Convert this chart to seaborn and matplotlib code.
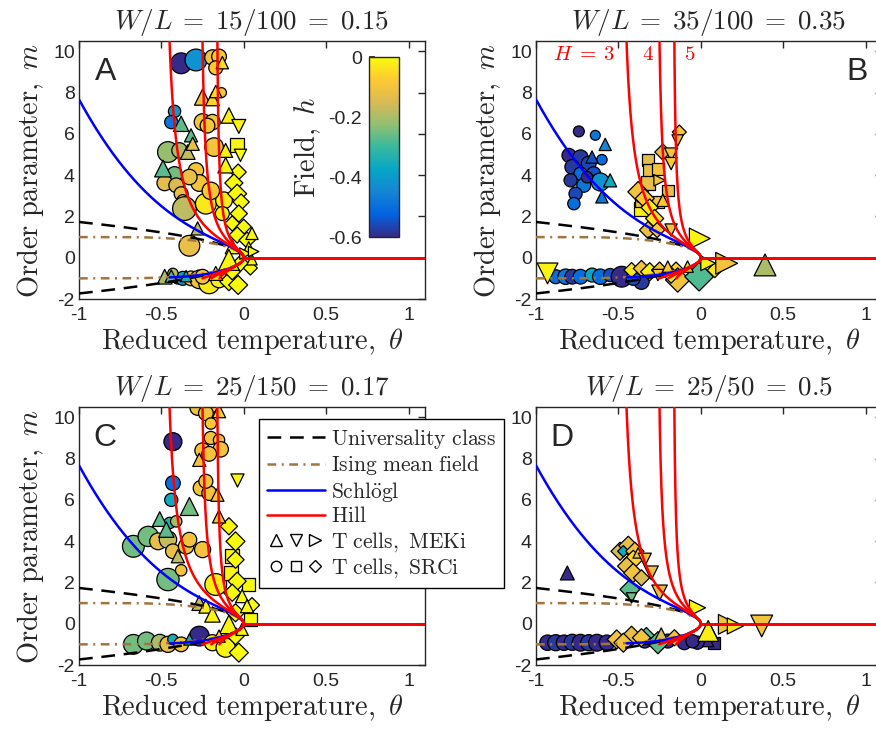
import numpy as np
import pandas as pd
import matplotlib
matplotlib.use("Agg")
import matplotlib.pyplot as plt
import seaborn as sns
from matplotlib.colors import LinearSegmentedColormap, Normalize
from matplotlib.cm import ScalarMappable
from matplotlib.lines import Line2D
from matplotlib.legend_handler import HandlerTuple

# ---------------------------------------------------------------- data
titles = [r"$W/L\;=\;15/100\;=\;0.15$", r"$W/L\;=\;35/100\;=\;0.35$",
          r"$W/L\;=\;25/150\;=\;0.17$", r"$W/L\;=\;25/50\;=\;0.5$"]
letters = ["A", "B", "C", "D"]

# Panel A: reduced temperature, order parameter, field, marker, size
A_theta = [-0.38, -0.29, -0.19, -0.15, -0.17, -0.13, -0.25, -0.19, -0.135, -0.17,
           -0.42, -0.44, -0.38, -0.32, -0.25, -0.19, -0.22, -0.09, -0.03, -0.04,
           -0.02, -0.46, -0.39, -0.34, -0.31, -0.18, -0.11, -0.11, -0.49, -0.42,
           -0.48, -0.41, -0.38, -0.37, -0.29, -0.27, -0.33, -0.36, -0.23, -0.12,
           -0.20, -0.13, -0.034, -0.06, -0.04, -0.016, -0.03, -0.07, 0.00, -0.04,
           0.02, 0.05, -0.07, 0.01, -0.02, -0.09, 0.05, -0.33, -0.28, -0.48,
           -0.44, -0.40, -0.37, -0.32, -0.27, -0.21, -0.15, -0.09, -0.034, -0.07,
           -0.43, -0.35, -0.17, -0.25, 0.03, 0.04, 0.06]
A_m = [9.42, 9.58, 9.70, 9.75, 9.20, 9.45, 7.78, 7.70, 8.00, 8.05,
       7.09, 6.57, 6.49, 5.93, 6.57, 6.57, 6.40, 6.89, 6.36, 5.44,
       4.96, 5.12, 5.20, 5.12, 5.52, 5.36, 5.20, 4.48, 4.32, 4.04,
       3.62, 3.51, 3.10, 2.78, 4.23, 3.62, 3.91, 2.38, 2.62, 2.78,
       3.24, 2.14, 4.15, 3.62, 3.10, 2.70, 2.14, 1.66, 1.50, 1.10,
       0.85, 1.18, 0.53, 0.20, -0.27, -0.11, -0.10, 0.58, 1.42, -0.92,
       -0.89, -1.00, -1.00, -1.00, -1.05, -1.24, -1.05, -1.16, -1.32, -0.68,
       -0.76, -0.89, -0.76, -0.92, 0.50, -0.50, 0.30]
A_h = [-0.60, -0.42, -0.10, -0.09, -0.08, -0.05, -0.10, -0.06, -0.10, -0.05,
       -0.40, -0.48, -0.27, -0.27, -0.10, -0.10, -0.09, -0.02, -0.01, -0.01,
       0.00, -0.22, -0.20, -0.17, -0.12, -0.10, -0.02, -0.01, -0.27, -0.25,
       -0.13, -0.15, -0.12, -0.10, -0.10, -0.10, -0.12, -0.18, -0.03, -0.02,
       -0.08, -0.01, 0.00, 0.00, 0.00, 0.00, 0.00, 0.00, 0.00, 0.00,
       0.00, -0.01, -0.01, -0.01, 0.00, -0.01, -0.01, -0.12, -0.18, -0.20,
       -0.27, -0.50, -0.38, -0.12, -0.10, -0.03, -0.02, 0.00, 0.00, 0.00,
       -0.20, -0.35, -0.02, -0.10, 0.00, 0.00, 0.00]
A_mark = "ooooo^^^o^" "oo^^ooo^vs" "voo^^o^^^o" "oooooooooo" "ooDDDDDDDD" \
         "D^^>D^^o^^" "^ooooooDDD" "o^^o^D>"
A_size = [200, 220, 110, 100, 90, 70, 120, 90, 45, 70,
          70, 80, 110, 80, 130, 110, 100, 110, 90, 90,
          70, 200, 110, 100, 80, 160, 90, 110, 130, 110,
          110, 100, 90, 60, 110, 130, 110, 260, 200, 130,
          140, 90, 80, 100, 110, 80, 90, 70, 70, 80,
          80, 70, 90, 60, 80, 200, 50, 200, 80, 100,
          70, 60, 90, 100, 160, 200, 130, 100, 110, 80,
          50, 60, 90, 100, 60, 60, 50]

# Panel B
B_theta = [-0.74, -0.64, -0.58, -0.80, -0.73, -0.68, -0.66, -0.60, -0.78, -0.73,
           -0.65, -0.79, -0.71, -0.61, -0.55, -0.76, -0.77, -0.60, -0.69, -0.13,
           -0.14, -0.18, -0.18, -0.23, -0.32, -0.31, -0.26, -0.32, -0.25, -0.38,
           -0.34, -0.36, -0.31, -0.26, -0.23, -0.28, -0.32, -0.265, -0.18, -0.006,
           -0.20, -0.36, -0.93, -0.88, -0.82, -0.78, -0.73, -0.66, -0.61, -0.55,
           -0.48, -0.36, -0.41, -0.42, -0.36, -0.31, -0.25, -0.20, -0.15, -0.14,
           -0.01, -0.08, 0.045, 0.085, 0.157, 0.39, -0.26, -0.18]
B_m = [6.12, 5.93, 5.49, 4.96, 4.85, 4.56, 4.88, 4.75, 4.40, 4.07,
       4.07, 3.75, 3.51, 3.67, 3.75, 3.10, 2.62, 2.95, 3.90, 6.09,
       5.68, 5.00, 4.56, 5.12, 4.75, 4.23, 4.31, 3.62, 3.75, 3.19,
       2.87, 2.38, 2.43, 2.70, 2.78, 1.90, 1.34, 1.34, 1.34, 0.93,
       3.27, 2.78, -0.76, -0.92, -0.92, -0.92, -0.92, -0.84, -0.92, -0.84,
       -0.92, -1.16, -1.00, -0.60, -0.52, -0.68, -0.60, -0.43, -0.60, -1.08,
       -0.92, -0.43, -0.27, -0.60, -0.27, -0.35, -0.84, -0.84]
B_h = [-0.60, -0.48, -0.45, -0.60, -0.58, -0.56, -0.55, -0.50, -0.58, -0.50,
       -0.55, -0.58, -0.48, -0.42, -0.36, -0.56, -0.50, -0.48, -0.60, -0.08,
       -0.10, -0.10, -0.08, -0.13, -0.13, -0.12, -0.10, -0.12, -0.10, -0.10,
       -0.08, -0.02, -0.02, -0.10, -0.08, -0.03, -0.12, -0.08, -0.10, -0.01,
       -0.12, -0.12, -0.01, -0.50, -0.48, -0.58, -0.50, -0.38, -0.50, -0.55,
       -0.60, -0.58, -0.55, -0.03, -0.10, -0.02, -0.10, -0.08, -0.05, -0.10,
       -0.28, -0.05, -0.02, -0.03, -0.10, -0.20, -0.10, -0.02]
B_mark = "oo^ooo^ooo" "oooo^oo^oD" "vvvDssss>D" "DsDs^DDDv>" "ssvooooooo" \
         "oooDDDD^DD" "D^>D>^vD"
B_size = [55, 45, 70, 90, 110, 100, 70, 50, 100, 80,
          90, 80, 90, 150, 80, 80, 70, 70, 60, 60,
          60, 80, 70, 80, 70, 80, 70, 80, 60, 130,
          110, 90, 90, 70, 70, 100, 90, 70, 70, 200,
          60, 80, 200, 90, 110, 100, 100, 90, 110, 80,
          200, 110, 90, 70, 80, 100, 80, 60, 80, 180,
          250, 60, 100, 70, 220, 220, 60, 80]

# Panel C
C_theta = [-0.28, -0.21, -0.23, -0.15, -0.20, -0.20, -0.15, -0.14, -0.25, -0.21,
           -0.27, -0.43, -0.43, -0.44, -0.26, -0.21, -0.23, -0.16, -0.04, -0.33,
           -0.15, -0.51, -0.47, -0.45, -0.41, -0.09, -0.05, -0.07, -0.05, -0.67,
           -0.58, -0.52, -0.46, -0.43, -0.35, -0.33, -0.25, -0.40, -0.46, -0.38,
           -0.17, -0.27, -0.23, -0.19, -0.08, -0.04, -0.07, -0.01, 0.02, -0.05,
           -0.09, -0.67, -0.59, -0.51, -0.46, -0.43, -0.38, -0.27, -0.33, -0.19,
           -0.11, -0.03, -0.05, -0.01, -0.15, 0.03, 0.05, 0.04]
C_m = [10.47, 10.55, 10.20, 10.30, 9.70, 9.00, 8.90, 8.45, 8.39, 8.23,
       7.94, 8.82, 6.81, 6.00, 6.57, 6.33, 6.90, 6.25, 6.94, 5.68,
       5.20, 5.07, 4.56, 4.88, 4.96, 4.72, 3.99, 3.27, 3.10, 3.75,
       4.23, 3.99, 4.07, 3.51, 3.75, 4.07, 3.59, 3.27, 2.14, 2.59,
       1.90, 1.00, 0.85, 0.45, 2.46, 2.06, 1.50, 1.34, 0.85, 0.53,
       -0.03, -1.00, -0.84, -0.92, -1.00, -0.76, -1.00, -0.60, -0.76, -0.92,
       -1.16, -1.40, -0.60, -0.27, -0.60, 1.90, 0.90, 0.20]
C_h = [-0.10, -0.10, -0.10, -0.06, -0.08, -0.10, -0.10, -0.10, -0.10, -0.10,
       -0.10, -0.60, -0.50, -0.36, -0.10, -0.10, -0.10, -0.08, -0.01, -0.25,
       -0.10, -0.27, -0.27, -0.33, -0.20, -0.01, 0.00, -0.01, 0.00, -0.25,
       -0.25, -0.12, -0.17, -0.12, -0.10, -0.10, -0.10, -0.18, -0.25, -0.10,
       -0.02, -0.17, -0.02, -0.01, -0.01, 0.00, 0.00, 0.00, 0.00, 0.00,
       -0.01, -0.25, -0.25, -0.20, -0.12, -0.35, -0.10, -0.60, -0.35, -0.02,
       -0.01, 0.00, 0.00, 0.00, -0.08, 0.00, 0.00, 0.00]
C_mark = "ooo^oooooo" "^oooooo^v^" "^^^ooDDsDo" "ooooooo^oo" "o^^^sDD^^D" \
         "^ooooooo^o" "oDD^^sDs"
C_size = [110, 120, 100, 80, 60, 80, 60, 110, 110, 100,
          80, 150, 100, 80, 110, 100, 90, 80, 80, 150,
          80, 100, 110, 60, 60, 90, 110, 90, 90, 220,
          190, 130, 140, 100, 110, 100, 120, 80, 230, 60,
          220, 100, 90, 110, 90, 100, 90, 80, 80, 100,
          160, 180, 150, 130, 120, 50, 100, 180, 60, 120,
          170, 110, 90, 70, 70, 80, 70, 70]

# Panel D
D_theta = [-0.81, -0.49, -0.44, -0.47, -0.40, -0.41, -0.45, -0.41, -0.36, -0.34,
           -0.30, -0.43, -0.42, -0.25, -0.02, -0.38, -0.93, -0.88, -0.83, -0.78,
           -0.73, -0.68, -0.63, -0.57, -0.51, -0.42, -0.33, -0.26, -0.24, -0.16,
           -0.10, -0.02, 0.045, 0.065, 0.045, 0.167, 0.21, 0.37, -0.34, -0.20,
           -0.47, -0.36, 0.08, -0.05]
D_m = [2.46, 3.51, 3.78, 3.51, 3.51, 3.10, 2.79, 2.46, 2.22, 3.10,
       2.46, 1.66, 1.25, 1.50, 0.77, 3.43, -0.92, -0.92, -0.92, -0.90,
       -0.92, -0.92, -0.92, -0.92, -0.76, -0.60, -0.60, -0.92, -0.52, -0.68,
       -0.92, -0.92, -0.84, -0.43, -0.35, -0.03, -0.11, -0.11, -0.84, -0.84,
       -0.92, -0.68, -0.92, -0.85]
D_h = [-0.60, -0.15, -0.12, -0.36, -0.10, -0.06, -0.12, -0.10, -0.15, -0.10,
       -0.12, -0.27, -0.25, -0.12, -0.01, -0.10, -0.60, -0.58, -0.60, -0.58,
       -0.60, -0.58, -0.60, -0.60, -0.10, -0.12, -0.27, -0.27, -0.15, -0.10,
       -0.60, -0.60, -0.60, -0.25, -0.02, -0.10, -0.03, -0.10, -0.60, -0.60,
       -0.10, -0.10, -0.60, -0.60]
D_mark = "^DDDDDDDDv" "vDvv>^oooo" "ooooDDDD^D" "oo^^^>>voo" "DDso"
D_size = [90, 100, 110, 40, 100, 110, 100, 110, 80, 80,
          90, 120, 50, 110, 120, 50, 110, 120, 110, 120,
          130, 120, 130, 110, 110, 120, 90, 150, 80, 80,
          90, 80, 60, 60, 200, 180, 120, 220, 90, 90,
          110, 100, 70, 80]

panel_data = [(A_theta, A_m, A_h, A_mark, A_size),
              (B_theta, B_m, B_h, B_mark, B_size),
              (C_theta, C_m, C_h, C_mark, C_size),
              (D_theta, D_m, D_h, D_mark, D_size)]

# model parameters
hill_theta_inf = [-0.50, -0.27, -0.17]   # divergence of the upper Hill branch (H = 3, 4, 5)
schlogl_lower_end = -0.45

# ---------------------------------------------------------------- style
sns.set_theme(style="white")
plt.rcParams["font.family"] = ["Liberation Sans", "DejaVu Sans"]
plt.rcParams["mathtext.fontset"] = "cm"
plt.rcParams["axes.unicode_minus"] = False

parula = LinearSegmentedColormap.from_list("parula", [
    (0.2081, 0.1663, 0.5292), (0.0117, 0.3875, 0.8820), (0.0793, 0.5200, 0.8312),
    (0.0228, 0.6535, 0.7768), (0.2178, 0.7250, 0.6193), (0.5709, 0.7485, 0.4494),
    (0.8507, 0.7299, 0.3360), (0.9955, 0.7861, 0.1967), (0.9763, 0.9831, 0.0538)])
h_norm = (-0.6, 0.0)
BROWN = "#A2743F"
LW = 1.8
DASH = (0, (5.5, 3.5))
DASHDOT = (0, (3.5, 2.2, 0.8, 2.2))
INK = "#262626"

# ---------------------------------------------------------------- model curves
th = np.linspace(-1.0, 0.0, 600)
univ = np.sqrt(3.0) * np.sqrt(-th)

T = np.clip(1.0 + th, 1e-4, None)
ising = np.ones_like(th)
for _ in range(4000):
    ising = np.tanh(ising / T)

s_coef = 5.5 * th**2 + 1.31 * (-th)**3
t_coef = 3.0 * th - 3.6 * th**2
disc = np.sqrt(s_coef**2 - 4.0 * t_coef)
schl_up = 0.5 * (s_coef + disc)
schl_lo = 0.5 * (s_coef - disc)
lo_mask = th >= schlogl_lower_end

theta_pos = np.array([0.0, 1.1])
zero_pos = np.array([0.0, 0.0])

W, H = 876, 731
fig = plt.figure(figsize=(W / 100, H / 100), dpi=100)
lefts = [79, 536, 79, 536]
tops = [41, 41, 407, 407]
axes = []
for i in range(4):
    ax = fig.add_axes([lefts[i] / W, 1 - (tops[i] + 258) / H, 346 / W, 258 / H])
    axes.append(ax)
    th_d, m_d, h_d, mk_d, s_d = panel_data[i]
    df = pd.DataFrame({"theta": th_d, "m": m_d, "h": h_d,
                       "marker": list(mk_d), "size": s_d})
    for mk in ["o", "s", "D", "^", "v", ">"]:
        sub = df[df["marker"] == mk]
        if len(sub) == 0:
            continue
        scale = 0.85 if mk == "D" else 1.12
        sns.scatterplot(data=sub, x="theta", y="m", hue="h", palette=parula,
                        hue_norm=h_norm, marker=mk, s=sub["size"].values * scale,
                        edgecolor="black", linewidth=0.9, legend=False,
                        ax=ax, zorder=2)

    # theory
    ax.plot(th, univ, color="black", lw=LW, ls=DASH, zorder=3)
    ax.plot(th, -univ, color="black", lw=LW, ls=DASH, zorder=3)
    ax.plot(th, ising, color=BROWN, lw=LW, ls=DASHDOT, zorder=3)
    ax.plot(th, -ising, color=BROWN, lw=LW, ls=DASHDOT, zorder=3)
    ax.plot(th, schl_up, color="blue", lw=LW, zorder=4)
    ax.plot(th[lo_mask], schl_lo[lo_mask], color="blue", lw=LW, zorder=4)
    ax.plot(theta_pos, zero_pos, color="blue", lw=LW, zorder=4)
    for th_inf in hill_theta_inf:
        tt = np.linspace(th_inf * 0.999, 0.0, 800)
        a = 1.0 - tt / th_inf
        up = np.sqrt(-3.0 * tt) / a**0.95
        lo = -np.sqrt(-3.0 * tt) / a**0.2
        keep = lo >= -1.0
        ax.plot(tt, up, color="red", lw=LW, zorder=5)
        ax.plot(tt[keep], lo[keep], color="red", lw=LW, zorder=5)
    ax.plot(theta_pos, zero_pos, color="red", lw=LW, zorder=5)

    ax.set_xlim(-1, 1.1)
    ax.set_ylim(-2, 10.5)
    ax.set_xticks([-1, -0.5, 0, 0.5, 1])
    ax.set_xticklabels(["-1", "-0.5", "0", "0.5", "1"])
    ax.set_yticks([-2, 0, 2, 4, 6, 8, 10])
    ax.set_yticklabels(["-2", "0", "2", "4", "6", "8", "10"])
    ax.tick_params(direction="in", top=True, right=True, length=5, width=1,
                   labelsize=14, colors=INK, pad=3)
    ax.tick_params(axis="x", pad=6)
    for sp in ax.spines.values():
        sp.set_color(INK)
        sp.set_linewidth(1.0)
    ax.set_xlabel(r"$\mathrm{Reduced\ temperature,\ }\theta$", fontsize=20.5,
                  labelpad=1, color=INK)
    # the bottom-right panel's y label sits under the legend
    if i != 3:
        ax.set_ylabel(r"$\mathrm{Order\ parameter,\ }m$", fontsize=20.5,
                      labelpad=5, color=INK)
    else:
        ax.set_ylabel("")
    ax.set_title(titles[i], fontsize=19.5, pad=9)
    lx = 0.95 if i == 1 else -0.84
    ax.text(lx, 9.0, letters[i], fontsize=23, ha="center", va="center",
            zorder=6)

# Hill exponent annotations
axB = axes[1]
for txt, x in zip([r"$H\;=\;3$", r"$4$", r"$5$"], [-0.71, -0.32, -0.07]):
    axB.text(x, 9.85, txt, color="red", fontsize=15, ha="center", va="center")

# colorbar for the field
cax = fig.add_axes([369 / W, 1 - 237 / H, 30 / W, 180 / H])
sm = ScalarMappable(norm=Normalize(*h_norm), cmap=parula)
cb = fig.colorbar(sm, cax=cax, ticks=[0, -0.2, -0.4, -0.6])
cb.ax.set_yticklabels(["0", "-0.2", "-0.4", "-0.6"])
cb.ax.yaxis.set_ticks_position("left")
cb.ax.yaxis.set_label_position("left")
cb.ax.tick_params(direction="in", length=4, labelsize=14, colors=INK, pad=5)
cb.outline.set_linewidth(1.0)
cb.set_label(r"$\mathrm{Field,\ }h$", fontsize=20.5, labelpad=4)

# legend
handles = [
    Line2D([], [], color="black", lw=LW, ls=DASH),
    Line2D([], [], color=BROWN, lw=LW, ls=DASHDOT),
    Line2D([], [], color="blue", lw=LW),
    Line2D([], [], color="red", lw=LW),
    tuple(Line2D([], [], ls="none", marker=mk, ms=8, mfc="white", mec="black",
                 mew=1.0) for mk in ["^", "v", ">"]),
    tuple(Line2D([], [], ls="none", marker=mk, ms=7.5 if mk != "D" else 6.5,
                 mfc="white", mec="black", mew=1.0) for mk in ["o", "s", "D"]),
]
labels = [r"$\mathrm{Universality\ class}$", r"$\mathrm{Ising\ mean\ field}$",
          r"$\mathrm{Schl\ddot{o}gl}$", r"$\mathrm{Hill}$",
          r"$\mathrm{T\ cells,\ MEKi}$", r"$\mathrm{T\ cells,\ SRCi}$"]
leg = fig.legend(handles, labels, loc="upper left",
                 bbox_to_anchor=(259 / W, 1 - 419 / H),
                 handler_map={tuple: HandlerTuple(ndivide=None, pad=0.0)},
                 fontsize=15.5, frameon=True, fancybox=False, framealpha=1,
                 edgecolor="black", handlelength=2.7, handletextpad=0.3,
                 borderpad=0.35, labelspacing=0.12, borderaxespad=0)
leg.get_frame().set_linewidth(1.0)

fig.savefig("out.png", dpi=100, facecolor="white")
